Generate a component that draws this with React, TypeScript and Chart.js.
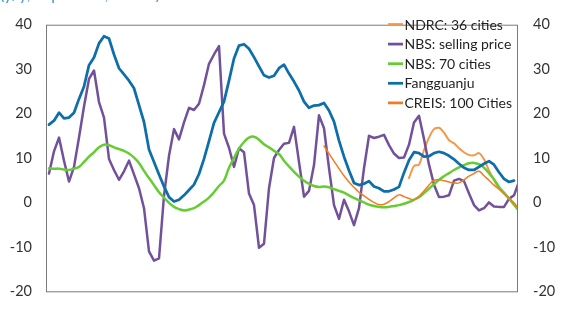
import React, { useEffect, useRef } from "react";
import { Chart, registerables } from "chart.js";

Chart.register(...registerables);

// Monthly observations, index 0..94 (x axis unlabeled in the source)
const fangguanju = [
  17.5, 18.4, 20.2, 18.9, 19.1, 20.2, 23.3, 26.1, 30.9, 32.6,
  35.8, 37.4, 36.9, 33.3, 30.2, 28.8, 27.4, 25.7, 21.9, 18.1,
  11.9, 9.1, 6.3, 3.6, 1.2, 0.2, 0.6, 1.6, 2.8, 4.0,
  6.4, 9.8, 13.8, 17.9, 20.3, 22.7, 27.4, 32.4, 35.3, 35.6,
  34.6, 32.7, 30.6, 28.6, 28.1, 28.5, 30.2, 31.0, 29.0, 27.2,
  25.2, 22.7, 21.3, 21.8, 21.9, 22.4, 20.7, 18.2, 13.9, 10.3,
  7.2, 4.4, 3.9, 4.2, 4.8, 3.6, 3.2, 2.5, 2.5, 2.9,
  3.5, 6.7, 9.5, 11.3, 11.1, 10.3, 10.4, 11.1, 11.4, 11.1,
  10.5, 9.7, 8.7, 7.8, 7.3, 7.3, 8.0, 8.7, 9.3, 8.5,
  6.8, 5.3, 4.6, 4.9,
];

const nbsSellingPrice = [
  6.5, 11.5, 14.6, 9.4, 4.7, 8.0, 14.6, 21.6, 27.8, 29.7,
  22.6, 19.1, 9.8, 7.3, 5.1, 7.0, 9.4, 6.3, 3.2, -1.3,
  -11.0, -13.1, -12.6, 1.5, 10.5, 16.5, 14.2, 18.0, 21.3, 20.8,
  22.2, 26.4, 31.2, 33.3, 35.2, 15.5, 12.3, 8.0, 12.2, 11.3,
  2.0, -0.6, -10.2, -9.3, 3.2, 10.0, 11.8, 13.2, 13.4, 17.0,
  9.1, 1.3, 2.6, 8.4, 19.6, 16.7, 7.7, -0.6, -3.7, 0.6,
  -2.0, -5.1, -1.3, 7.7, 15.0, 14.5, 14.8, 15.2, 12.9, 11.0,
  10.0, 10.1, 13.0, 18.0, 19.5, 14.3, 8.5, 4.0, 1.2, 1.3,
  1.6, 4.9, 5.3, 4.8, 2.0, -0.6, -1.8, -1.3, 0.0, -0.9,
  -1.0, -1.0, 0.8, 1.6, 4.7,
];

const nbs70Cities = [
  7.7, 7.6, 7.6, 7.4, 7.3, 7.6, 8.0, 9.1, 10.3, 11.3,
  12.4, 13.0, 12.9, 12.4, 12.0, 11.6, 11.0, 10.1, 8.9, 7.1,
  5.5, 3.9, 2.3, 1.1, -0.1, -1.0, -1.5, -1.8, -1.6, -1.3,
  -0.6, 0.2, 1.1, 2.3, 3.7, 4.9, 7.8, 10.0, 12.1, 13.6,
  14.6, 14.8, 14.1, 13.1, 12.4, 11.6, 10.9, 9.4, 8.1, 6.9,
  5.8, 4.9, 4.2, 3.7, 3.5, 3.6, 3.4, 3.0, 2.6, 2.2,
  1.6, 1.0, 0.5, 0.0, -0.5, -0.8, -1.0, -1.1, -1.0, -0.8,
  -0.6, -0.3, 0.1, 0.6, 1.2, 2.1, 3.1, 4.1, 5.1, 5.9,
  6.6, 7.3, 7.9, 8.4, 8.8, 8.9, 8.6, 7.8, 6.6, 5.2,
  3.5, 2.2, 0.9, -0.5, -1.9,
];

const ndrcStart = 72;
const ndrc36Cities = [
  5.5, 8.2, 8.5, 11.8, 14.6, 16.5, 16.8, 15.7, 14.0, 13.3,
  12.2, 11.3, 10.7, 10.6, 11.1, 9.7, 7.2, 5.0, 3.2, 2.0,
  0.8, -0.2, -1.5,
];

const creisStart = 55;
const creis100Cities = [
  12.7, 11.0, 9.3, 7.6, 6.0, 4.6, 3.4, 2.3, 1.5, 0.7,
  0.0, -0.5, -0.4, 0.2, 1.0, 1.7, 1.3, 0.9, 0.6, 1.4,
  2.6, 3.9, 5.0, 5.1, 4.9, 4.6, 4.4, 4.4, 5.1, 5.9,
  6.5, 7.0, 6.0, 5.0, 3.9, 3.0, 2.0, 1.0, -0.2, -1.4,
];

const yTicks = [-20, -10, 0, 10, 20, 30, 40];
const seriesNames = [
  "NDRC: 36 cities",
  "NBS: selling price",
  "NBS: 70 cities",
  "Fangguanju",
  "CREIS: 100 Cities",
];
const titleText = "(y/y, in percent, 3mma)";

const toPoints = (values: number[], start = 0) =>
  values.map((v, i) => ({ x: start + i, y: v }));

export default function App() {
  const ref = useRef<HTMLCanvasElement | null>(null);

  useEffect(() => {
    document.body.style.margin = "0";
    const canvas = ref.current;
    if (!canvas) return;

    const colors = ["#F79646", "#72519B", "#66CC33", "#0E6EAA", "#F27B22"];
    const widths = [2, 2.5, 2.5, 2.75, 1.5];

    const legendPlugin = {
      id: "insideLegend",
      afterDatasetsDraw(chart: any) {
        const ctx = chart.ctx;
        ctx.save();
        // plot frame
        const a = chart.chartArea;
        ctx.strokeStyle = "#7a7a7a";
        ctx.lineWidth = 1;
        ctx.strokeRect(a.left - 0.5, a.top + 0.5, a.right - a.left + 1, a.bottom - a.top);
        // legend
        ctx.font = "14px Lato";
        ctx.textBaseline = "middle";
        ctx.textAlign = "left";
        seriesNames.forEach((name, k) => {
          const y = 24.5 + k * 19.6;
          ctx.strokeStyle = colors[k];
          ctx.lineWidth = 2.75;
          ctx.beginPath();
          ctx.moveTo(388, y);
          ctx.lineTo(403, y);
          ctx.stroke();
          ctx.fillStyle = "#1f1f1f";
          ctx.fillText(name, 404.5, y + 0.5);
        });
        // clipped title
        ctx.font = "16px Lato";
        ctx.fillStyle = "#3b9ad8";
        ctx.textBaseline = "alphabetic";
        ctx.fillText(titleText, 0, -0.5);
        ctx.restore();
      },
    };

    const tickFont = { family: "Lato", size: 14.5 };

    const chart = new Chart(canvas, {
      type: "line",
      data: {
        datasets: [
          {
            label: seriesNames[0],
            data: toPoints(ndrc36Cities, ndrcStart),
            borderColor: colors[0],
            borderWidth: widths[0],
            tension: 0.25,
            order: 4,
          },
          {
            label: seriesNames[1],
            data: toPoints(nbsSellingPrice),
            borderColor: colors[1],
            borderWidth: widths[1],
            tension: 0,
            order: 3,
          },
          {
            label: seriesNames[2],
            data: toPoints(nbs70Cities),
            borderColor: colors[2],
            borderWidth: widths[2],
            tension: 0.4,
            order: 2,
          },
          {
            label: seriesNames[3],
            data: toPoints(fangguanju),
            borderColor: colors[3],
            borderWidth: widths[3],
            tension: 0,
            order: 1,
          },
          {
            label: seriesNames[4],
            data: toPoints(creis100Cities, creisStart),
            borderColor: colors[4],
            borderWidth: widths[4],
            tension: 0.4,
            order: 0,
          },
        ],
      },
      options: {
        responsive: false,
        animation: false,
        devicePixelRatio: 1,
        layout: { padding: { top: 14, bottom: 13, left: 0, right: 0 } },
        elements: {
          point: { radius: 0, hoverRadius: 0 },
          line: { fill: false, borderCapStyle: "round", borderJoinStyle: "round" },
        },
        plugins: {
          legend: { display: false },
          tooltip: { enabled: false },
          title: { display: false },
        },
        scales: {
          x: {
            type: "linear",
            min: -0.4,
            max: 93.6,
            display: false,
          },
          y: {
            position: "left",
            min: -20,
            max: 40,
            afterFit: (s: any) => {
              s.width = 47;
            },
            afterBuildTicks: (s: any) => {
              s.ticks = yTicks.map((v) => ({ value: v }));
            },
            grid: { display: false, drawTicks: false },
            border: { display: false },
            ticks: { font: tickFont, color: "#333333", padding: 15 },
          },
          y2: {
            position: "right",
            min: -20,
            max: 40,
            afterFit: (s: any) => {
              s.width = 46;
            },
            afterBuildTicks: (s: any) => {
              s.ticks = yTicks.map((v) => ({ value: v }));
            },
            grid: { display: false, drawTicks: false },
            border: { display: false },
            ticks: { font: tickFont, color: "#333333", padding: 16 },
          },
        },
      },
      plugins: [legendPlugin],
    } as any);

    return () => chart.destroy();
  }, []);

  return (
    <div style={{ position: "absolute", left: 0, top: 0, width: 563, height: 316, background: "#fff" }}>
      <canvas ref={ref} width={563} height={316} style={{ width: 563, height: 316, display: "block" }} />
    </div>
  );
}
